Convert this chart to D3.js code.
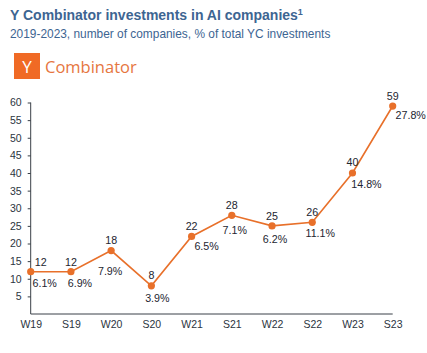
<!DOCTYPE html>
<html>
<head>
<meta charset="utf-8">
<style>
  body { margin:0; background:#fff; }
  .title { font: bold 14px "Liberation Sans", Arial, sans-serif; fill:#3d6592; }
  .subtitle { font: 11.9px "Liberation Sans", Arial, sans-serif; fill:#3d6592; }
  .axis text { font: 10.5px "Liberation Sans", Arial, sans-serif; fill:#2b3440; }
  .axis path, .axis line { stroke:#3a4048; }
  .lbl { font: 10.7px "Liberation Sans", Arial, sans-serif; fill:#1d2530; }
  .line { fill:none; stroke:#e8702a; stroke-width:1.6px; }
  .dot { fill:#e8702a; }
</style>
</head>
<body>
<svg width="427" height="353"></svg>
<script src="https://cdn.jsdelivr.net/npm/d3@7"></script>
<script>

var batches = ["W19","S19","W20","S20","W21","S21","W22","S22","W23","S23"]
var companies = [12,12,18,8,22,28,25,26,40,59]
var shares = ["6.1%","6.9%","7.9%","3.9%","6.5%","7.1%","6.2%","11.1%","14.8%","27.8%"]
var yTicks = [5,10,15,20,25,30,35,40,45,50,55,60]

// label nudges so they clear the line
var pctOffset = [[14,11],[9,11],[-1,20],[6,12],[15,10],[3,15],[3,13],[8,11],[14,11],[18,9]]
var cntOffset = [[10,-10],[0,-10],[0,-11],[0,-11],[0,-10],[0,-10],[0,-10],[0,-10],[0,-11],[0,-10]]

var svg = d3.select("svg")

svg.append("text").attr("class","title").attr("x",10).attr("y",20)
  .text("Y Combinator investments in AI companies")
  .append("tspan").attr("dy",-5).style("font-size","9px").text("1")

svg.append("text").attr("class","subtitle").attr("x",10).attr("y",38)
  .text("2019-2023, number of companies, % of total YC investments")

// logo
svg.append("rect").attr("x",14).attr("y",53).attr("width",26).attr("height",26).attr("fill","#f06a25")
svg.append("text").attr("x",27).attr("y",73).attr("text-anchor","middle")
  .style("font","17px 'Open Sans', sans-serif").attr("fill","#fff").text("Y")
svg.append("text").attr("x",45).attr("y",73)
  .style("font","16.5px 'Open Sans', sans-serif").attr("fill","#e6763f").text("Combinator")

var x = d3.scalePoint().domain(batches).range([30.7, 392.7])
var y = d3.scaleLinear().domain([0,60]).range([314, 102.5])

svg.append("g").attr("class","axis")
  .attr("transform","translate(30.7,0)")
  .call(d3.axisLeft(y).tickValues(yTicks).tickSize(3).tickPadding(6).tickSizeOuter(0))
  .call(function(g){ g.select(".domain").attr("d","M0,"+y(0)+"V"+y(60)) })

svg.append("g").attr("class","axis")
  .attr("transform","translate(0,314)")
  .call(d3.axisBottom(x).tickSize(0).tickPadding(7))
  .call(function(g){ g.select(".domain").attr("d","M"+x("W19")+",0H"+x("S23")) })

var line = d3.line()
  .x(function(d,i){ return x(batches[i]) })
  .y(function(d){ return y(d) })

svg.append("path").datum(companies).attr("class","line").attr("d",line)

svg.selectAll(".dot").data(companies).enter().append("circle")
  .attr("class","dot").attr("r",3.6)
  .attr("cx",function(d,i){ return x(batches[i]) })
  .attr("cy",function(d){ return y(d) })

svg.selectAll(".cnt").data(companies).enter().append("text")
  .attr("class","lbl cnt").attr("text-anchor","middle")
  .attr("x",function(d,i){ return x(batches[i]) + cntOffset[i][0] })
  .attr("y",function(d,i){ return y(d) + cntOffset[i][1] + 4 })
  .text(function(d){ return d })

svg.selectAll(".pct").data(shares).enter().append("text")
  .attr("class","lbl pct").attr("text-anchor","middle")
  .attr("x",function(d,i){ return x(batches[i]) + pctOffset[i][0] })
  .attr("y",function(d,i){ return y(companies[i]) + pctOffset[i][1] + 4 })
  .text(function(d){ return d })

</script>
</body>
</html>
